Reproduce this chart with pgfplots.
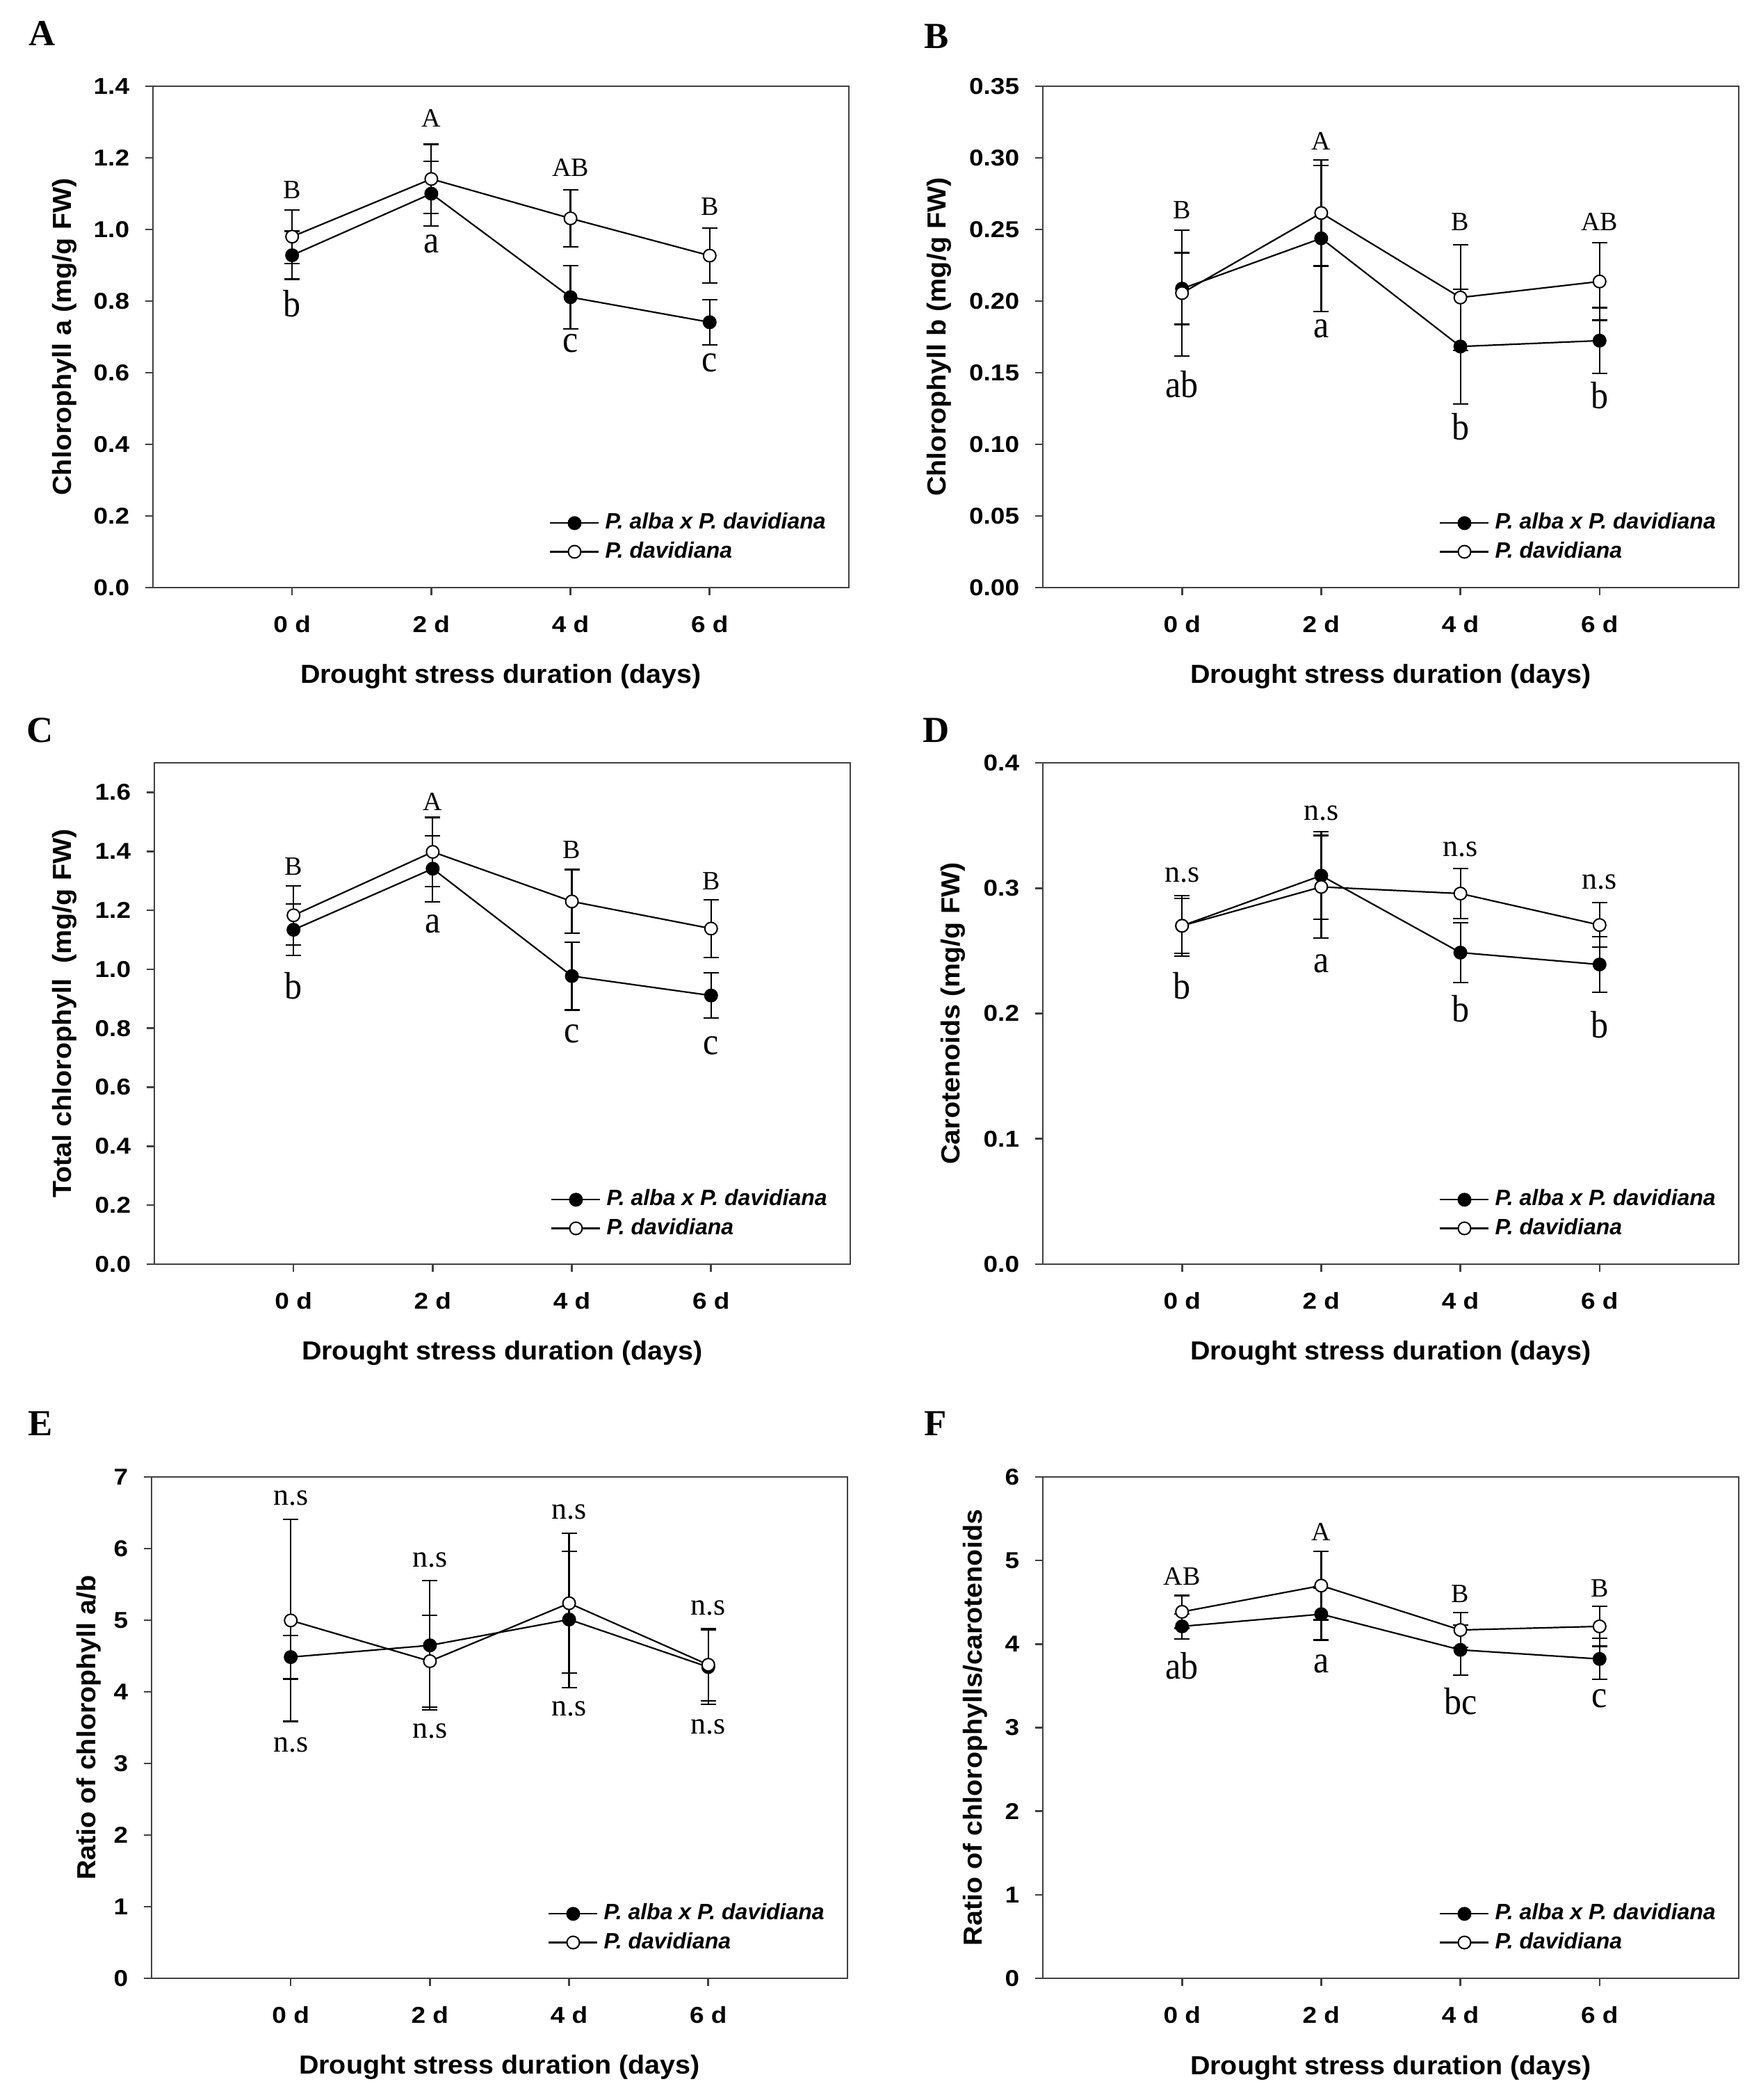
\documentclass[border=0pt]{standalone}
\usepackage{fontspec}
\usepackage{graphicx}
\usepackage{pgfplots}
\pgfplotsset{compat=1.18}
\usepackage{pgfplotstable}
\setmainfont{Liberation Serif}
\newfontfamily\tickfont{Liberation Sans}
\newfontfamily\labfont{Liberation Sans}
\newfontfamily\legfont{Liberation Sans}
\newfontfamily\serfont{Liberation Serif}

\newcommand{\T}[1]{\scalebox{1.12}[1]{#1}}
\newcommand{\LB}[1]{\scalebox{1.05}[1]{#1}}
\newcommand{\UP}[1]{{\fontsize{9.5pt}{9.5pt}\selectfont #1}}
\newcommand{\LO}[1]{\scalebox{1}[1.1]{\fontsize{12.5pt}{12.5pt}\selectfont #1}}
\newcommand{\NS}{{\fontsize{11pt}{11pt}\selectfont n.s}}

% ---------------- data ----------------
\pgfplotstableread{
x y e
0 0.928 0.067
1 1.100 0.090
2 0.811 0.088
3 0.741 0.063
}\Afill
\pgfplotstableread{
x y e
0 0.980 0.075
1 1.141 0.097
2 1.031 0.080
3 0.927 0.077
}\Aopen
\pgfplotstableread{
x y e
0 0.2087 0.025
1 0.2438 0.051
2 0.1683 0.040
3 0.1724 0.023
}\Bfill
\pgfplotstableread{
x y e
0 0.2056 0.044
1 0.2615 0.037
2 0.2025 0.037
3 0.2137 0.027
}\Bopen
\pgfplotstableread{
x y e
0 1.134 0.088
1 1.341 0.112
2 0.977 0.115
3 0.911 0.077
}\Cfill
\pgfplotstableread{
x y e
0 1.183 0.100
1 1.398 0.117
2 1.230 0.108
3 1.138 0.098
}\Copen
\pgfplotstableread{
x y e
0 0.2700 0.022
1 0.3100 0.035
2 0.2486 0.024
3 0.2391 0.022
}\Dfill
\pgfplotstableread{
x y e
0 0.2700 0.024
1 0.3010 0.041
2 0.2957 0.020
3 0.2706 0.0177
}\Dopen
\pgfplotstableread{
x y e
0 4.485 0.305
1 4.649 0.905
2 5.010 0.950
3 4.346 0.520
}\Efill
\pgfplotstableread{
x y e
0 4.997 1.410
1 4.428 0.640
2 5.237 0.975
3 4.378 0.505
}\Eopen
\pgfplotstableread{
x y e
0 4.212 0.150
1 4.358 0.310
2 3.931 0.300
3 3.822 0.245
}\Ffill
\pgfplotstableread{
x y e
0 4.386 0.195
1 4.700 0.410
2 4.169 0.206
3 4.212 0.238
}\Fopen

\pgfplotsset{
 panel/.style={
  scale only axis, width=250.25pt, height=180.25pt,
  anchor=north west,
  xmin=-1, xmax=4, xtick={0,1,2,3}, xticklabels={\T{0 d},\T{2 d},\T{4 d},\T{6 d}},
  tick align=outside, xtick pos=left, ytick pos=left,
  major tick length=2.75pt, minor tick num=0,
  axis line style={black!75, line width=0.65pt},
  every tick/.style={black!75, line width=0.65pt},
  ticklabel style={font=\tickfont\bfseries\fontsize{8.25pt}{8.25pt}\selectfont},
  xticklabel style={yshift=-3.75pt},
  yticklabel style={xshift=-2.2pt},
  label style={font=\labfont\bfseries\fontsize{9.4pt}{9.4pt}\selectfont},
  xlabel={\LB{Drought stress duration (days)}},
  xlabel style={at={(axis description cs:0.5,-0.178)}, anchor=center},
  legend style={at={(axis description cs:0.569,0.100)}, anchor=west,
    draw=none, fill=none, inner sep=0pt, row sep=-1pt,
    /tikz/every even column/.append style={column sep=1.5pt},
    font=\legfont\bfseries\itshape\fontsize{8pt}{8pt}\selectfont},
  legend cell align=left,
  legend image code/.code={\draw[mark repeat=2,mark phase=2,##1] plot coordinates {(0pt,0pt) (8.75pt,0pt) (17.5pt,0pt)};},
  clip=false,
 },
 fillser/.style={black, line width=0.55pt, mark=*, mark size=2.25pt,
   mark options={solid, fill=black, line width=0.5pt},
   error bars/.cd, y dir=both, y explicit,
   error bar style={line width=0.55pt, black},
   error mark options={rotate=90, mark size=2.75pt, line width=0.55pt, black}},
 openser/.style={black, line width=0.55pt, mark=*, mark size=2.25pt,
   mark options={solid, fill=white, line width=0.5pt},
   error bars/.cd, y dir=both, y explicit,
   error bar style={line width=0.55pt, black},
   error mark options={rotate=90, mark size=2.75pt, line width=0.55pt, black}},
}

\begin{document}
\begin{tikzpicture}
\path[use as bounding box] (0,0) rectangle (633pt,-755pt);

\node[font=\serfont\bfseries\fontsize{13.2pt}{13.2pt}\selectfont, inner sep=0pt] at (15.2pt,-11.9pt) {A};
\node[font=\serfont\bfseries\fontsize{13.2pt}{13.2pt}\selectfont, inner sep=0pt] at (336.75pt,-13pt) {B};
\node[font=\serfont\bfseries\fontsize{13.2pt}{13.2pt}\selectfont, inner sep=0pt] at (14.5pt,-262.5pt) {C};
\node[font=\serfont\bfseries\fontsize{13.2pt}{13.2pt}\selectfont, inner sep=0pt] at (336.75pt,-262.5pt) {D};
\node[font=\serfont\bfseries\fontsize{13.2pt}{13.2pt}\selectfont, inner sep=0pt] at (14.5pt,-511.75pt) {E};
\node[font=\serfont\bfseries\fontsize{13.2pt}{13.2pt}\selectfont, inner sep=0pt] at (336.5pt,-511.75pt) {F};

% ---------- A ----------
\begin{axis}[panel, at={(55pt,-31pt)},
  ymin=0, ymax=1.4, ytick={0,0.2,0.4,0.6,0.8,1.0,1.2,1.4},
  yticklabels={\T{0.0},\T{0.2},\T{0.4},\T{0.6},\T{0.8},\T{1.0},\T{1.2},\T{1.4}},
  ylabel={\LB{Chlorophyll a (mg/g FW)}},
  ylabel style={at={(axis description cs:-0.127,0.5)}, anchor=center}]
\addplot[fillser] table[x=x,y=y,y error=e] {\Afill};
\addplot[openser] table[x=x,y=y,y error=e] {\Aopen};
\legend{P. alba x P. davidiana, P. davidiana}
\node[inner sep=0pt] at (axis cs:0,1.111) {\UP{B}};
\node[inner sep=0pt] at (axis cs:1,1.310) {\UP{A}};
\node[inner sep=0pt] at (axis cs:2,1.173) {\UP{AB}};
\node[inner sep=0pt] at (axis cs:3,1.063) {\UP{B}};
\node[inner sep=0pt] at (axis cs:0,0.793) {\LO{b}};
\node[inner sep=0pt] at (axis cs:1,0.960) {\LO{a}};
\node[inner sep=0pt] at (axis cs:2,0.681) {\LO{c}};
\node[inner sep=0pt] at (axis cs:3,0.628) {\LO{c}};
\end{axis}

% ---------- B ----------
\begin{axis}[panel, at={(375pt,-31pt)},
  ymin=0, ymax=0.35, ytick={0,0.05,0.10,0.15,0.20,0.25,0.30,0.35},
  yticklabels={\T{0.00},\T{0.05},\T{0.10},\T{0.15},\T{0.20},\T{0.25},\T{0.30},\T{0.35}},
  ylabel={\LB{Chlorophyll b (mg/g FW)}},
  ylabel style={at={(axis description cs:-0.149,0.5)}, anchor=center}]
\addplot[fillser] table[x=x,y=y,y error=e] {\Bfill};
\addplot[openser] table[x=x,y=y,y error=e] {\Bopen};
\legend{P. alba x P. davidiana, P. davidiana}
\node[inner sep=0pt] at (axis cs:0,0.2637) {\UP{B}};
\node[inner sep=0pt] at (axis cs:1,0.3118) {\UP{A}};
\node[inner sep=0pt] at (axis cs:2,0.2553) {\UP{B}};
\node[inner sep=0pt] at (axis cs:3,0.2553) {\UP{AB}};
\node[inner sep=0pt] at (axis cs:0,0.1419) {\LO{ab}};
\node[inner sep=0pt] at (axis cs:1,0.1807) {\LO{a}};
\node[inner sep=0pt] at (axis cs:2,0.1124) {\LO{b}};
\node[inner sep=0pt] at (axis cs:3,0.1342) {\LO{b}};
\end{axis}

% ---------- C ----------
\begin{axis}[panel, at={(55.5pt,-274.25pt)},
  ymin=0, ymax=1.7, ytick={0,0.2,0.4,0.6,0.8,1.0,1.2,1.4,1.6},
  yticklabels={\T{0.0},\T{0.2},\T{0.4},\T{0.6},\T{0.8},\T{1.0},\T{1.2},\T{1.4},\T{1.6}},
  ylabel={\LB{Total chlorophyll\ \ (mg/g FW)}},
  ylabel style={at={(axis description cs:-0.129,0.5)}, anchor=center}]
\addplot[fillser] table[x=x,y=y,y error=e] {\Cfill};
\addplot[openser] table[x=x,y=y,y error=e] {\Copen};
\legend{P. alba x P. davidiana, P. davidiana}
\node[inner sep=0pt] at (axis cs:0,1.349) {\UP{B}};
\node[inner sep=0pt] at (axis cs:1,1.567) {\UP{A}};
\node[inner sep=0pt] at (axis cs:2,1.406) {\UP{B}};
\node[inner sep=0pt] at (axis cs:3,1.299) {\UP{B}};
\node[inner sep=0pt] at (axis cs:0,0.943) {\LO{b}};
\node[inner sep=0pt] at (axis cs:1,1.153) {\LO{a}};
\node[inner sep=0pt] at (axis cs:2,0.782) {\LO{c}};
\node[inner sep=0pt] at (axis cs:3,0.740) {\LO{c}};
\end{axis}

% ---------- D ----------
\begin{axis}[panel, at={(375pt,-274.25pt)},
  ymin=0, ymax=0.4, ytick={0,0.1,0.2,0.3,0.4},
  yticklabels={\T{0.0},\T{0.1},\T{0.2},\T{0.3},\T{0.4}},
  ylabel={\LB{Carotenoids (mg/g FW)}},
  ylabel style={at={(axis description cs:-0.129,0.5)}, anchor=center}]
\addplot[fillser] table[x=x,y=y,y error=e] {\Dfill};
\addplot[openser] table[x=x,y=y,y error=e] {\Dopen};
\legend{P. alba x P. davidiana, P. davidiana}
\node[inner sep=0pt] at (axis cs:0,0.3105) {\NS};
\node[inner sep=0pt] at (axis cs:1,0.3600) {\NS};
\node[inner sep=0pt] at (axis cs:2,0.3310) {\NS};
\node[inner sep=0pt] at (axis cs:3,0.3050) {\NS};
\node[inner sep=0pt] at (axis cs:0,0.222) {\LO{b}};
\node[inner sep=0pt] at (axis cs:1,0.240) {\LO{a}};
\node[inner sep=0pt] at (axis cs:2,0.204) {\LO{b}};
\node[inner sep=0pt] at (axis cs:3,0.191) {\LO{b}};
\end{axis}

% ---------- E ----------
\begin{axis}[panel, at={(54.5pt,-531pt)},
  ymin=0, ymax=7, ytick={0,1,2,3,4,5,6,7},
  yticklabels={\T{0},\T{1},\T{2},\T{3},\T{4},\T{5},\T{6},\T{7}},
  ylabel={\LB{Ratio of chlorophyll a/b}},
  ylabel style={at={(axis description cs:-0.090,0.5)}, anchor=center}]
\addplot[fillser] table[x=x,y=y,y error=e] {\Efill};
\addplot[openser] table[x=x,y=y,y error=e] {\Eopen};
\legend{P. alba x P. davidiana, P. davidiana}
\node[inner sep=0pt] at (axis cs:0,6.70) {\NS};
\node[inner sep=0pt] at (axis cs:1,5.84) {\NS};
\node[inner sep=0pt] at (axis cs:2,6.51) {\NS};
\node[inner sep=0pt] at (axis cs:3,5.17) {\NS};
\node[inner sep=0pt] at (axis cs:0,3.26) {\NS};
\node[inner sep=0pt] at (axis cs:1,3.45) {\NS};
\node[inner sep=0pt] at (axis cs:2,3.76) {\NS};
\node[inner sep=0pt] at (axis cs:3,3.51) {\NS};
\end{axis}

% ---------- F ----------
\begin{axis}[panel, at={(375pt,-531pt)},
  ymin=0, ymax=6, ytick={0,1,2,3,4,5,6},
  yticklabels={\T{0},\T{1},\T{2},\T{3},\T{4},\T{5},\T{6}},
  ylabel={\LB{Ratio of chlorophylls/carotenoids}},
  ylabel style={at={(axis description cs:-0.097,0.5)}, anchor=center}]
\addplot[fillser] table[x=x,y=y,y error=e] {\Ffill};
\addplot[openser] table[x=x,y=y,y error=e] {\Fopen};
\legend{P. alba x P. davidiana, P. davidiana}
\node[inner sep=0pt] at (axis cs:0,4.808) {\UP{AB}};
\node[inner sep=0pt] at (axis cs:1,5.340) {\UP{A}};
\node[inner sep=0pt] at (axis cs:2,4.600) {\UP{B}};
\node[inner sep=0pt] at (axis cs:3,4.670) {\UP{B}};
\node[inner sep=0pt] at (axis cs:0,3.736) {\LO{ab}};
\node[inner sep=0pt] at (axis cs:1,3.763) {\LO{a}};
\node[inner sep=0pt] at (axis cs:2,3.313) {\LO{bc}};
\node[inner sep=0pt] at (axis cs:3,3.346) {\LO{c}};
\end{axis}
\end{tikzpicture}
\end{document}
